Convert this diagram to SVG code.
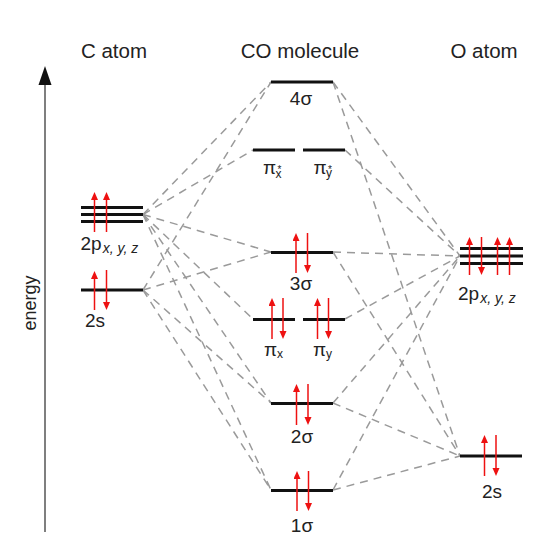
<svg xmlns="http://www.w3.org/2000/svg" width="540" height="541" viewBox="0 0 540 541">
<defs>
<marker id="eh" markerUnits="userSpaceOnUse" markerWidth="9" markerHeight="8" refX="2" refY="3.5" orient="auto">
<path d="M0,0 L8,3.5 L0,7 z" fill="#ee1111"/>
</marker>
</defs>
<style>
.lvl{stroke:#111;stroke-width:3;fill:none}
.e{stroke:#ee1111;stroke-width:1.5;marker-end:url(#eh)}
.cn{stroke:#9a9a9a;stroke-width:1.5;stroke-dasharray:8 6;fill:none}
text{font-family:"Liberation Sans",Arial,sans-serif;fill:#222}
.hd{font-size:20.5px}
.lb{font-size:19px}
.sb{font-size:14px;font-style:italic}
.ss{font-size:12px}
.st{font-size:10px}
</style>
<rect width="540" height="541" fill="#fff"/>

<g id="axis">
<line x1="45" y1="532" x2="45" y2="82" stroke="#555" stroke-width="1.5"/>
<polygon points="45,66 38.5,85 51.5,85" fill="#111"/>
<text transform="translate(36,303) rotate(-90)" text-anchor="middle" font-size="18px">energy</text>
</g>

<g id="headers">
<text class="hd" x="114" y="58" text-anchor="middle">C atom</text>
<text class="hd" x="300" y="58" text-anchor="middle">CO molecule</text>
<text class="hd" x="484" y="58" text-anchor="middle">O atom</text>
</g>

<g id="connectors">
<line class="cn" x1="143" y1="214.5" x2="271" y2="82"/>
<line class="cn" x1="143" y1="214.5" x2="253" y2="150"/>
<line class="cn" x1="143" y1="214.5" x2="271" y2="252"/>
<line class="cn" x1="143" y1="214.5" x2="253" y2="319"/>
<line class="cn" x1="143" y1="214.5" x2="271" y2="403"/>
<line class="cn" x1="143" y1="214.5" x2="271" y2="490"/>
<line class="cn" x1="143" y1="290" x2="271" y2="82"/>
<line class="cn" x1="143" y1="290" x2="271" y2="252"/>
<line class="cn" x1="143" y1="290" x2="271" y2="403"/>
<line class="cn" x1="143" y1="290" x2="271" y2="490"/>
<line class="cn" x1="333" y1="82" x2="460" y2="256"/>
<line class="cn" x1="333" y1="82" x2="460" y2="456"/>
<line class="cn" x1="345" y1="150" x2="460" y2="256"/>
<line class="cn" x1="333" y1="252" x2="460" y2="256"/>
<line class="cn" x1="333" y1="252" x2="460" y2="456"/>
<line class="cn" x1="345" y1="319" x2="460" y2="256"/>
<line class="cn" x1="333" y1="403" x2="460" y2="256"/>
<line class="cn" x1="333" y1="403" x2="460" y2="456"/>
<line class="cn" x1="333" y1="490" x2="460" y2="256"/>
<line class="cn" x1="333" y1="490" x2="460" y2="456"/>
</g>

<g id="c-2p">
<line class="lvl" x1="81" y1="207.5" x2="143" y2="207.5"/>
<line class="lvl" x1="81" y1="214.5" x2="143" y2="214.5"/>
<line class="lvl" x1="81" y1="221.5" x2="143" y2="221.5"/>
<line class="e" x1="94.5" y1="232" x2="94.5" y2="198"/>
<line class="e" x1="106.5" y1="232" x2="106.5" y2="198"/>
<text class="lb" x="80.5" y="250">2p<tspan class="sb" dx="1" dy="2.5">x, y, z</tspan></text>
</g>

<g id="c-2s">
<line class="lvl" x1="81" y1="290" x2="143" y2="290"/>
<line class="e" x1="94.5" y1="310" x2="94.5" y2="277"/>
<line class="e" x1="106.5" y1="270" x2="106.5" y2="304"/>
<text class="lb" x="85" y="327">2s</text>
</g>

<g id="mo-4sigma">
<line class="lvl" x1="271" y1="82" x2="333" y2="82"/>
<text class="lb" x="301" y="105" text-anchor="middle">4σ</text>
</g>

<g id="mo-pistar-x">
<line class="lvl" x1="253" y1="150" x2="295" y2="150"/>
<text class="lb" x="263" y="173.5">π<tspan class="st" dx="1.5" dy="-1">*</tspan><tspan class="ss" dx="-6" dy="5.5">x</tspan></text>
</g>

<g id="mo-pistar-y">
<line class="lvl" x1="303" y1="150" x2="345" y2="150"/>
<text class="lb" x="313.5" y="173.5">π<tspan class="st" dx="1.5" dy="-1">*</tspan><tspan class="ss" dx="-6" dy="4">y</tspan></text>
</g>

<g id="mo-3sigma">
<line class="lvl" x1="271" y1="252.5" x2="333" y2="252.5"/>
<line class="e" x1="296" y1="273" x2="296" y2="239"/>
<line class="e" x1="307.5" y1="233" x2="307.5" y2="267"/>
<text class="lb" x="301" y="290" text-anchor="middle">3σ</text>
</g>

<g id="mo-pi-x">
<line class="lvl" x1="253" y1="319.5" x2="295" y2="319.5"/>
<line class="e" x1="272" y1="339" x2="272" y2="304"/>
<line class="e" x1="283" y1="298" x2="283" y2="333"/>
<text class="lb" x="264" y="356">π<tspan class="ss" dy="2">x</tspan></text>
</g>

<g id="mo-pi-y">
<line class="lvl" x1="303" y1="319.5" x2="345" y2="319.5"/>
<line class="e" x1="317.5" y1="339" x2="317.5" y2="304"/>
<line class="e" x1="328.5" y1="298" x2="328.5" y2="333"/>
<text class="lb" x="313" y="356">π<tspan class="ss" dy="2">y</tspan></text>
</g>

<g id="mo-2sigma">
<line class="lvl" x1="271" y1="403.5" x2="333" y2="403.5"/>
<line class="e" x1="296.5" y1="425" x2="296.5" y2="390"/>
<line class="e" x1="308" y1="384" x2="308" y2="419"/>
<text class="lb" x="302" y="443" text-anchor="middle">2σ</text>
</g>

<g id="mo-1sigma">
<line class="lvl" x1="271" y1="490.5" x2="333" y2="490.5"/>
<line class="e" x1="297" y1="511" x2="297" y2="477"/>
<line class="e" x1="308.5" y1="471" x2="308.5" y2="505"/>
<text class="lb" x="302" y="532" text-anchor="middle">1σ</text>
</g>

<g id="o-2p">
<line class="lvl" x1="460" y1="248.5" x2="523" y2="248.5"/>
<line class="lvl" x1="460" y1="256" x2="523" y2="256"/>
<line class="lvl" x1="460" y1="263.5" x2="523" y2="263.5"/>
<line class="e" x1="469.5" y1="275" x2="469.5" y2="243"/>
<line class="e" x1="481.5" y1="237" x2="481.5" y2="269"/>
<line class="e" x1="497.5" y1="275" x2="497.5" y2="243"/>
<line class="e" x1="509.5" y1="275" x2="509.5" y2="243"/>
<text class="lb" x="458" y="300">2p<tspan class="sb" dx="1" dy="2.5">x, y, z</tspan></text>
</g>

<g id="o-2s">
<line class="lvl" x1="460" y1="456" x2="522" y2="456"/>
<line class="e" x1="484.5" y1="476" x2="484.5" y2="441"/>
<line class="e" x1="496" y1="435" x2="496" y2="470"/>
<text class="lb" x="492" y="498" text-anchor="middle">2s</text>
</g>
</svg>
